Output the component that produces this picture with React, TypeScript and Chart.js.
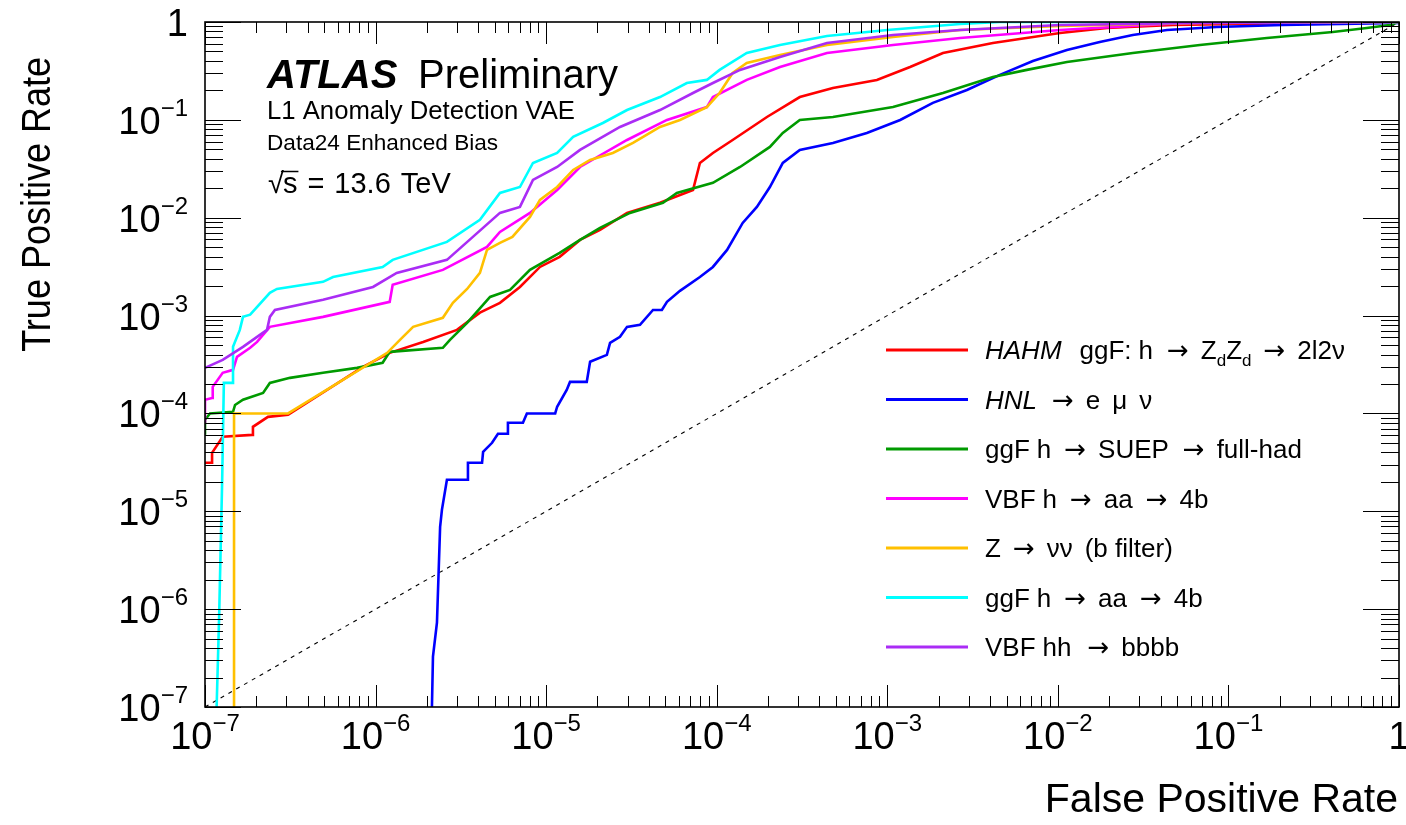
import React, { useEffect, useRef } from 'react';
import { Chart, registerables } from 'chart.js';

Chart.register(...registerables);

const FONT = '"Liberation Sans", Arial, Helvetica, sans-serif';
const ARROW_FONT = '"DejaVu Sans", "Liberation Sans", sans-serif';

// ---- Data (False Positive Rate, True Positive Rate) ----
const hahmFpr = [1e-7, 1.10e-7, 1.10e-7, 1.27e-7, 1.89e-7, 1.91e-7, 2.34e-7, 3.07e-7, 8.44e-7, 1.21e-6, 1.90e-6, 3.00e-6, 4.09e-6, 5.36e-6, 7.02e-6, 9.20e-6, 1.20e-5, 1.58e-5, 2.07e-5, 2.98e-5, 4.65e-5, 7.26e-5, 7.97e-5, 9.50e-5, 1.24e-4, 1.97e-4, 3.07e-4, 4.80e-4, 8.69e-4, 1.36e-3, 2.12e-3, 4.16e-3, 1.03e-2, 1.94e-2, 4.72e-2, 0.288, 1];
const hahmTpr = [3.13e-5, 3.13e-5, 3.96e-5, 5.77e-5, 6.04e-5, 7.30e-5, 9.23e-5, 9.68e-5, 2.99e-4, 4.16e-4, 5.38e-4, 7.14e-4, 1.07e-3, 1.35e-3, 1.96e-3, 3.14e-3, 3.98e-3, 5.93e-3, 7.50e-3, 1.12e-2, 1.42e-2, 1.92e-2, 3.63e-2, 4.59e-2, 6.23e-2, 0.107, 0.171, 0.212, 0.256, 0.347, 0.482, 0.610, 0.772, 0.868, 0.932, 0.977, 1];

const hnlFpr = [2.14e-6, 2.17e-6, 2.29e-6, 2.39e-6, 2.45e-6, 2.62e-6, 3.48e-6, 3.48e-6, 4.21e-6, 4.27e-6, 4.82e-6, 5.22e-6, 5.97e-6, 5.97e-6, 7.31e-6, 7.71e-6, 1.13e-5, 1.16e-5, 1.32e-5, 1.38e-5, 1.73e-5, 1.81e-5, 2.27e-5, 2.37e-5, 2.71e-5, 2.98e-5, 3.55e-5, 4.23e-5, 4.77e-5, 5.11e-5, 6.09e-5, 7.97e-5, 9.50e-5, 1.15e-4, 1.42e-4, 1.72e-4, 2.05e-4, 2.44e-4, 3.07e-4, 4.80e-4, 7.59e-4, 1.19e-3, 1.85e-3, 2.93e-3, 4.57e-3, 7.14e-3, 1.13e-2, 1.76e-2, 2.75e-2, 4.36e-2, 8.55e-2, 0.208, 1, 1];
const hnlTpr = [1e-7, 3.27e-7, 7.26e-7, 6.95e-6, 1.04e-5, 2.10e-5, 2.10e-5, 3.13e-5, 3.13e-5, 4.05e-5, 5.01e-5, 6.19e-5, 6.19e-5, 8.02e-5, 8.02e-5, 1.0e-4, 1.0e-4, 1.17e-4, 1.74e-4, 2.10e-4, 2.10e-4, 3.37e-4, 3.97e-4, 5.26e-4, 6.06e-4, 7.67e-4, 8.04e-4, 1.14e-3, 1.14e-3, 1.38e-3, 1.79e-3, 2.48e-3, 3.14e-3, 4.69e-3, 8.85e-3, 1.29e-2, 2.06e-2, 3.63e-2, 4.93e-2, 5.81e-2, 7.35e-2, 9.98e-2, 0.149, 0.202, 0.288, 0.400, 0.518, 0.625, 0.737, 0.828, 0.889, 0.932, 0.977, 1];

const suepFpr = [1e-7, 1e-7, 1.07e-7, 1.46e-7, 1.50e-7, 1.67e-7, 2.19e-7, 2.40e-7, 3.15e-7, 4.92e-7, 7.78e-7, 1.10e-6, 1.21e-6, 2.48e-6, 2.73e-6, 3.44e-6, 4.69e-6, 6.14e-6, 8.04e-6, 1.20e-5, 1.58e-5, 2.07e-5, 3.10e-5, 4.84e-5, 5.84e-5, 9.50e-5, 1.37e-4, 2.05e-4, 2.44e-4, 3.07e-4, 4.80e-4, 1.08e-3, 2.12e-3, 4.16e-3, 6.58e-3, 1.13e-2, 2.75e-2, 6.80e-2, 0.168, 0.409, 0.647, 0.883, 1];
const suepTpr = [6.04e-5, 8.61e-5, 1.0e-4, 1.04e-4, 1.22e-4, 1.38e-4, 1.62e-4, 2.05e-4, 2.31e-4, 2.60e-4, 2.92e-4, 3.29e-4, 4.26e-4, 4.68e-4, 5.65e-4, 8.42e-4, 1.55e-3, 1.83e-3, 2.93e-3, 4.37e-3, 5.93e-3, 7.87e-3, 1.12e-2, 1.42e-2, 1.79e-2, 2.27e-2, 3.30e-2, 5.29e-2, 7.35e-2, 9.98e-2, 0.107, 0.135, 0.188, 0.274, 0.324, 0.390, 0.482, 0.582, 0.687, 0.791, 0.868, 0.932, 1];

const vbfAaFpr = [1e-7, 1e-7, 1.10e-7, 1.11e-7, 1.27e-7, 1.46e-7, 1.54e-7, 1.84e-7, 2.02e-7, 2.40e-7, 4.92e-7, 1.21e-6, 1.26e-6, 2.48e-6, 4.50e-6, 5.36e-6, 8.04e-6, 1.16e-5, 1.58e-5, 2.98e-5, 5.11e-5, 8.75e-5, 9.50e-5, 1.50e-4, 2.35e-4, 4.43e-4, 1.08e-3, 2.67e-3, 1.03e-2, 5.55e-2, 1];
const vbfAaTpr = [8.02e-5, 1.38e-4, 1.44e-4, 1.87e-4, 2.60e-4, 2.79e-4, 3.79e-4, 4.68e-4, 5.38e-4, 7.67e-4, 9.70e-4, 1.38e-3, 2.06e-3, 2.93e-3, 5.03e-3, 7.16e-3, 1.12e-2, 1.92e-2, 3.30e-2, 6.23e-2, 9.98e-2, 0.135, 0.171, 0.256, 0.347, 0.482, 0.582, 0.687, 0.828, 0.977, 1];

const zNuNuFpr = [1.48e-7, 1.48e-7, 3.07e-7, 1.17e-6, 1.39e-6, 1.66e-6, 2.48e-6, 2.84e-6, 3.44e-6, 4.09e-6, 4.50e-6, 5.36e-6, 6.34e-6, 8.04e-6, 9.20e-6, 1.16e-5, 1.44e-5, 1.81e-5, 2.46e-5, 3.23e-5, 4.65e-5, 6.09e-5, 8.75e-5, 1.04e-4, 1.24e-4, 1.50e-4, 2.35e-4, 4.43e-4, 1.08e-3, 2.67e-3, 1.03e-2, 6.80e-2, 1];
const zNuNuTpr = [1e-7, 1.0e-4, 1.0e-4, 4.16e-4, 5.65e-4, 7.67e-4, 9.48e-4, 1.35e-3, 1.87e-3, 2.73e-3, 4.69e-3, 5.53e-3, 6.37e-3, 1.02e-2, 1.52e-2, 2.06e-2, 3.08e-2, 3.89e-2, 4.59e-2, 5.81e-2, 8.46e-2, 9.98e-2, 0.135, 0.188, 0.301, 0.381, 0.460, 0.582, 0.703, 0.828, 0.910, 0.977, 1];

const ggfAaFpr = [1.17e-7, 1.21e-7, 1.26e-7, 1.29e-7, 1.46e-7, 1.46e-7, 1.60e-7, 1.67e-7, 1.84e-7, 2.40e-7, 2.64e-7, 4.92e-7, 5.63e-7, 1.10e-6, 1.26e-6, 2.62e-6, 4.09e-6, 5.36e-6, 7.02e-6, 8.37e-6, 1.16e-5, 1.44e-5, 2.15e-5, 2.98e-5, 4.65e-5, 6.68e-5, 8.75e-5, 1.04e-4, 1.50e-4, 2.35e-4, 4.43e-4, 1.0e-3, 2.67e-3, 4.57e-3, 1];
const ggfAaTpr = [1e-7, 8.36e-7, 1.95e-5, 2.05e-4, 2.05e-4, 4.79e-4, 7.14e-4, 9.70e-4, 1.02e-3, 1.71e-3, 1.87e-3, 2.21e-3, 2.48e-3, 3.14e-3, 3.71e-3, 5.66e-3, 9.50e-3, 1.79e-2, 2.06e-2, 3.63e-2, 4.59e-2, 6.69e-2, 9.29e-2, 0.126, 0.171, 0.238, 0.256, 0.324, 0.482, 0.582, 0.719, 0.828, 0.954, 1, 1];

const vbfHhFpr = [1e-7, 1.27e-7, 1.67e-7, 2.02e-7, 2.31e-7, 2.40e-7, 2.57e-7, 4.92e-7, 9.66e-7, 1.33e-6, 2.62e-6, 3.72e-6, 5.36e-6, 7.02e-6, 8.37e-6, 1.16e-5, 1.58e-5, 2.71e-5, 4.65e-5, 7.26e-5, 9.50e-5, 1.37e-4, 2.35e-4, 4.43e-4, 1.08e-3, 2.67e-3, 1.03e-2, 6.80e-2, 1];
const vbfHhTpr = [2.92e-4, 3.53e-4, 4.79e-4, 6.06e-4, 7.14e-4, 9.70e-4, 1.14e-3, 1.45e-3, 1.96e-3, 2.73e-3, 3.71e-3, 6.37e-3, 1.12e-2, 1.29e-2, 2.43e-2, 3.30e-2, 4.93e-2, 8.46e-2, 0.126, 0.188, 0.238, 0.324, 0.439, 0.610, 0.737, 0.828, 0.932, 0.977, 1];

// Random-classifier reference line
const diagonalFpr = [1e-7, 1];
const diagonalTpr = [1e-7, 1];

// ---- Axis tick labels ----
const decadeValues = [1e-7, 1e-6, 1e-5, 1e-4, 1e-3, 1e-2, 1e-1, 1];
const decadeLabelBase = ['10', '10', '10', '10', '10', '10', '10', '1'];
const decadeLabelExp = ['\u22127', '\u22126', '\u22125', '\u22124', '\u22123', '\u22122', '\u22121', ''];
const minorMultipliers = [2, 3, 4, 5, 6, 7, 8, 9];

const xTitle = 'False Positive Rate';
const yTitle = 'True Positive Rate';

// ---- Series labels (legend) ----
const seriesLabels = [
  'HAHM ggF: h \u2192 ZdZd \u2192 2l2\u03bd',
  'HNL \u2192 e \u03bc \u03bd',
  'ggF h \u2192 SUEP \u2192 full-had',
  'VBF h \u2192 aa \u2192 4b',
  'Z \u2192 \u03bd\u03bd (b filter)',
  'ggF h \u2192 aa \u2192 4b',
  'VBF hh \u2192 bbbb',
];
const seriesColors = ['#ff0000', '#0000ff', '#009a00', '#ff00ff', '#ffc000', '#00ffff', '#aa2cf5'];

type Seg = { t: string; it?: boolean; sub?: boolean; arrow?: boolean };
type Tok = { gap: number; segs: Seg[] };
const tk = (gap: number, ...segs: Seg[]): Tok => ({ gap, segs });
const s = (t: string, it = false, sub = false): Seg => ({ t, it, sub });
const ar = (): Seg => ({ t: '\u2192', arrow: true });

const legendRich: Tok[][] = [
  [tk(0, s('HAHM', true)), tk(18, s('ggF:')), tk(7, s('h')), tk(14, ar()), tk(12, s('Z'), s('d', false, true), s('Z'), s('d', false, true)), tk(12, ar()), tk(12, s('2l2\u03bd'))],
  [tk(0, s('HNL', true)), tk(15, ar()), tk(12, s('e')), tk(12, s('\u03bc')), tk(12, s('\u03bd'))],
  [tk(0, s('ggF')), tk(7, s('h')), tk(13, ar()), tk(12, s('SUEP')), tk(14, ar()), tk(12, s('full-had'))],
  [tk(0, s('VBF')), tk(7, s('h')), tk(13, ar()), tk(12, s('aa')), tk(13, ar()), tk(12, s('4b'))],
  [tk(0, s('Z')), tk(12, ar()), tk(12, s('\u03bd\u03bd')), tk(12, s('(b filter)'))],
  [tk(0, s('ggF')), tk(7, s('h')), tk(13, ar()), tk(12, s('aa')), tk(13, ar()), tk(12, s('4b'))],
  [tk(0, s('VBF')), tk(7, s('hh')), tk(16, ar()), tk(12, s('bbbb'))],
];

function drawSegs(ctx: CanvasRenderingContext2D, segs: Seg[], x: number, y: number, size: number) {
  let cx = x;
  for (const g of segs) {
    const fs = g.sub ? Math.round(size * 0.66) : size;
    ctx.font = `${g.it ? 'italic ' : ''}${fs}px ${g.arrow ? ARROW_FONT : FONT}`;
    ctx.fillText(g.t, cx, g.sub ? y + size * 0.28 : y);
    cx += ctx.measureText(g.t).width;
  }
  return cx;
}

function drawTokens(ctx: CanvasRenderingContext2D, toks: Tok[], x: number, y: number, size: number) {
  let cx = x;
  for (const t of toks) {
    cx += t.gap;
    cx = drawSegs(ctx, t.segs, cx, y, size);
  }
  return cx;
}

function drawPow(ctx: CanvasRenderingContext2D, base: string, exp: string, x: number, y: number, align: 'center' | 'right') {
  const bf = `38px ${FONT}`;
  const ef = `24px ${FONT}`;
  ctx.font = bf;
  const bw = ctx.measureText(base).width;
  ctx.font = ef;
  const ew = exp ? ctx.measureText(exp).width : 0;
  const total = bw + ew;
  const x0 = align === 'center' ? x - total / 2 : x - total;
  ctx.textAlign = 'left';
  ctx.font = bf;
  ctx.fillText(base, x0, y);
  if (exp) {
    ctx.font = ef;
    ctx.fillText(exp, x0 + bw, y - 18);
  }
}

const decorPlugin = {
  id: 'atlasDecor',
  afterDatasetsDraw(chart: any) {
    const { ctx, chartArea: a, scales } = chart;
    const xs = scales.x;
    const ys = scales.y;
    ctx.save();
    ctx.fillStyle = '#000';
    ctx.strokeStyle = '#000';
    ctx.textBaseline = 'alphabetic';

    // ticks
    ctx.lineWidth = 1;
    ctx.beginPath();
    decadeValues.forEach((dv, i) => {
      const mults = [1, ...(i < decadeValues.length - 1 ? minorMultipliers : [])];
      mults.forEach((m) => {
        const v = dv * m;
        const major = m === 1;
        const px = Math.round(xs.getPixelForValue(v)) + 0.5;
        const lx = major ? 22 : 11;
        ctx.moveTo(px, a.bottom);
        ctx.lineTo(px, a.bottom - lx);
        ctx.moveTo(px, a.top);
        ctx.lineTo(px, a.top + lx);
        const py = Math.round(ys.getPixelForValue(v)) + 0.5;
        const ly = major ? 36 : 18;
        ctx.moveTo(a.left, py);
        ctx.lineTo(a.left + ly, py);
        ctx.moveTo(a.right, py);
        ctx.lineTo(a.right - ly, py);
      });
    });
    ctx.stroke();

    // frame
    ctx.lineWidth = 1.6;
    ctx.strokeRect(a.left, a.top, a.right - a.left, a.bottom - a.top);

    // tick labels
    decadeValues.forEach((dv, i) => {
      const px = xs.getPixelForValue(dv);
      drawPow(ctx, decadeLabelBase[i], decadeLabelExp[i], px, 749, 'center');
      const py = ys.getPixelForValue(dv);
      drawPow(ctx, decadeLabelBase[i], decadeLabelExp[i], 188, py + 14, 'right');
    });

    // axis titles
    ctx.font = `41px ${FONT}`;
    ctx.textAlign = 'right';
    ctx.fillText(xTitle, 1398, 812);
    ctx.save();
    ctx.translate(50, 57);
    ctx.rotate(-Math.PI / 2);
    ctx.scale(0.9, 1);
    ctx.font = `40px ${FONT}`;
    ctx.textAlign = 'right';
    ctx.fillText(yTitle, 0, 0);
    ctx.restore();

    // ATLAS label
    ctx.textAlign = 'left';
    ctx.font = `italic bold 40px ${FONT}`;
    ctx.fillText('ATLAS', 267, 88);
    ctx.font = `40px ${FONT}`;
    ctx.fillText('Preliminary', 418, 88);
    ctx.font = `25.7px ${FONT}`;
    ctx.fillText('L1 Anomaly Detection VAE', 267, 119);
    ctx.font = `22.6px ${FONT}`;
    ctx.fillText('Data24 Enhanced Bias', 267, 150);

    // sqrt(s) = 13.6 TeV
    ctx.font = `29px ${FONT}`;
    const rootW = ctx.measureText('\u221a').width;
    ctx.fillText('\u221a', 268, 193);
    const sx = 268 + rootW - 1;
    ctx.fillText('s', sx, 193);
    const sw = ctx.measureText('s').width;
    ctx.lineWidth = 1.5;
    ctx.beginPath();
    ctx.moveTo(sx - 2, 171.5);
    ctx.lineTo(sx + sw + 1, 171.5);
    ctx.stroke();
    drawTokens(ctx, [tk(10, s('=')), tk(10, s('13.6')), tk(10, s('TeV'))], sx + sw, 193, 29);

    // legend
    const rowY0 = 350;
    const rowStep = 49.5;
    legendRich.forEach((toks, i) => {
      const y = rowY0 + i * rowStep;
      ctx.strokeStyle = seriesColors[i];
      ctx.lineWidth = 3;
      ctx.beginPath();
      ctx.moveTo(886, y);
      ctx.lineTo(968, y);
      ctx.stroke();
      ctx.fillStyle = '#000';
      drawTokens(ctx, toks, 985, y + 9, 26);
    });

    ctx.restore();
  },
};

function zip(xs: number[], ys: number[]) {
  const n = Math.min(xs.length, ys.length);
  const out: { x: number; y: number }[] = [];
  for (let i = 0; i < n; i++) out.push({ x: xs[i], y: ys[i] });
  return out;
}

export default function App() {
  const canvasRef = useRef<HTMLCanvasElement | null>(null);

  useEffect(() => {
    const canvas = canvasRef.current;
    if (!canvas) return;
    const series = [
      [hahmFpr, hahmTpr],
      [hnlFpr, hnlTpr],
      [suepFpr, suepTpr],
      [vbfAaFpr, vbfAaTpr],
      [zNuNuFpr, zNuNuTpr],
      [ggfAaFpr, ggfAaTpr],
      [vbfHhFpr, vbfHhTpr],
    ];
    const datasets: any[] = series.map(([fx, fy], i) => ({
      label: seriesLabels[i],
      data: zip(fx, fy),
      borderColor: seriesColors[i],
      backgroundColor: seriesColors[i],
      borderWidth: 2.6,
      pointRadius: 0,
      tension: 0,
      fill: false,
      order: series.length - 1 - i,
    }));
    datasets.push({
      label: 'Random',
      data: zip(diagonalFpr, diagonalTpr),
      borderColor: '#000',
      borderWidth: 1.1,
      borderDash: [4, 5],
      pointRadius: 0,
      fill: false,
      order: 20,
    });

    const chart = new Chart(canvas, {
      type: 'line',
      data: { datasets },
      options: {
        animation: false,
        responsive: false,
        devicePixelRatio: 1,
        layout: { padding: { left: 205, right: 7, top: 22, bottom: 118 } },
        scales: {
          x: { type: 'logarithmic', min: 1e-7, max: 1, display: false },
          y: { type: 'logarithmic', min: 1e-7, max: 1, display: false },
        },
        plugins: { legend: { display: false }, tooltip: { enabled: false } },
        elements: { point: { radius: 0 }, line: { tension: 0 } },
      },
      plugins: [decorPlugin],
    } as any);
    return () => chart.destroy();
  }, []);

  return (
    <div style={{ position: 'absolute', left: 0, top: 0, width: 1406, height: 825, background: '#fff' }}>
      <canvas ref={canvasRef} width={1406} height={825} style={{ width: 1406, height: 825, display: 'block' }} />
    </div>
  );
}
